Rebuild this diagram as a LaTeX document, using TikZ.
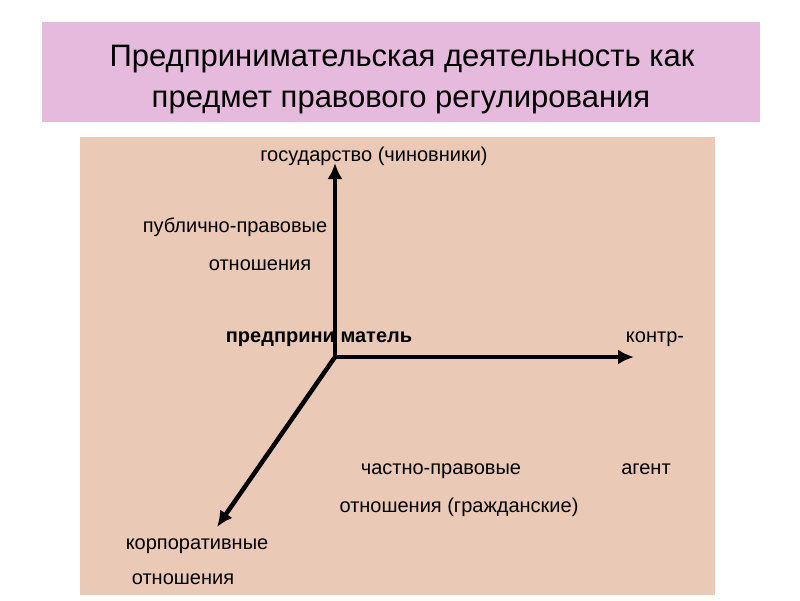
\documentclass[tikz,border=0pt]{standalone}
\usepackage{fontspec}
\setmainfont{Liberation Sans}
\usepackage{tikz}
\usetikzlibrary{arrows.meta}
\usetikzlibrary{positioning}
\definecolor{titlepink}{RGB}{229,186,220}
\definecolor{boxpeach}{RGB}{234,201,182}

\begin{document}
\begin{tikzpicture}[x=1pt,y=-1pt,>={Latex[length=16pt,width=15pt]},every node/.style={font=\fontsize{20}{24}\selectfont,inner sep=0pt,anchor=base}]
        \useasboundingbox (0,0) rectangle (800,600);
        \fill[titlepink] (42,22) rectangle (760,122);
        \fill[boxpeach] (80,137) rectangle (715,595);

        \node[font=\fontsize{31}{36}\selectfont] at (402,66) (title1) {Предпринимательская деятельность как};
        \node[font=\fontsize{31}{36}\selectfont] at (401,107) (title2) {предмет правового регулирования};

        \coordinate (o) at (335,357);
        \coordinate (up) at (335,163);
        \coordinate (right) at (634,357);
        \coordinate (down) at (217,527);

        \node at (374,161) (gos) {государство (чиновники)};
        \node at (235,232) (pub) {публично-правовые};
        \node at (260,270) (pubrel) {отношения};
        \node[font=\fontsize{20}{24}\selectfont\bfseries] at (319,342) (ent) {предприни матель};
        \node at (655,342) (contr) {контр-};
        \node at (441,474) (priv) {частно-правовые};
        \node at (646,474) (agent) {агент};
        \node at (459,512) (privrel) {отношения (гражданские)};
        \node at (197,549) (corp) {корпоративные};
        \node at (183,584) (corprel) {отношения};

        \draw[line width=4.5pt,->] (o) -- (up);
        \draw[line width=4.5pt,->] (o) -- (right);
        \draw[line width=4.5pt,->] (o) -- (down);
\end{tikzpicture}
\end{document}
